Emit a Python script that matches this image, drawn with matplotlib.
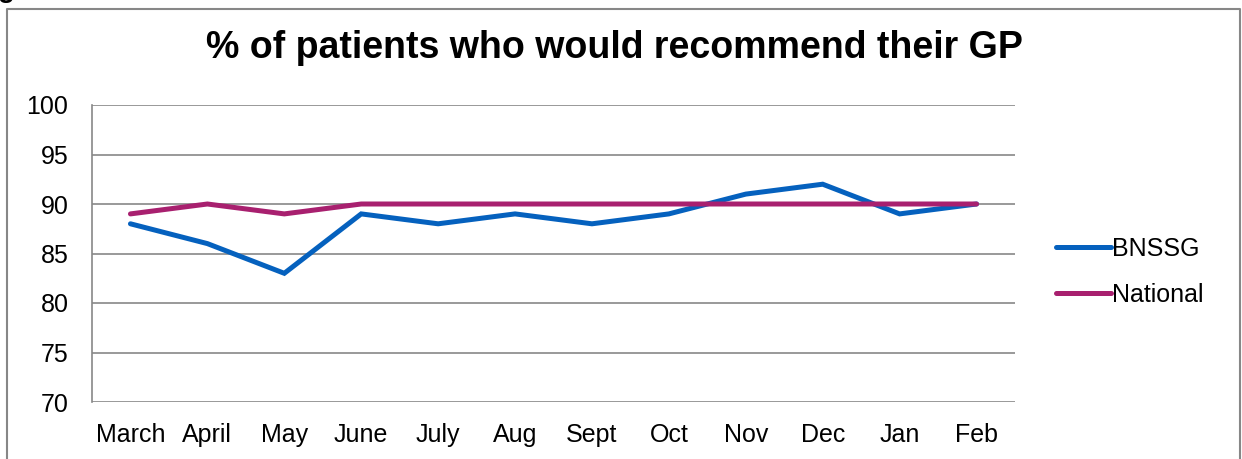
import matplotlib
matplotlib.use('Agg')
import matplotlib.pyplot as plt
from matplotlib.lines import Line2D

plt.rcParams['font.family'] = ['Liberation Sans', 'DejaVu Sans']

# monthly survey results (% recommending their GP)
months = ['March', 'April', 'May', 'June', 'July', 'Aug', 'Sept', 'Oct',
          'Nov', 'Dec', 'Jan', 'Feb']
bnssg = [88, 86, 83, 89, 88, 89, 88, 89, 91, 92, 89, 90]
national = [89, 90, 89, 90, 90, 90, 90, 90, 90, 90, 90, 90]
y_ticks = [70, 75, 80, 85, 90, 95, 100]

W, H = 1242, 459
fig = plt.figure(figsize=(W / 100, H / 100), dpi=100)
ax = fig.add_axes([92 / W, 1 - 402 / H, (1015 - 92) / W, (402 - 105) / H])

grid_col = '#878787'
x = range(len(months))
ax.plot(x, bnssg, color='#0561BE', lw=3.6, label='BNSSG',
        solid_capstyle='round', solid_joinstyle='miter', zorder=3)
ax.plot(x, national, color='#A8206F', lw=3.6, label='National',
        solid_capstyle='round', solid_joinstyle='miter', zorder=4)

ax.set_xlim(-0.5, len(months) - 0.5)
ax.set_ylim(70, 100)
ax.set_yticks(y_ticks)
ax.set_xticks(list(x))
ax.set_xticklabels(months)
ax.tick_params(axis='both', length=0, labelsize=18, colors='black')
ax.tick_params(axis='y', pad=17)
ax.tick_params(axis='x', pad=15)
ax.yaxis.grid(True, color=grid_col, lw=1.2)
ax.set_axisbelow(True)
for side in ['top', 'right', 'bottom']:
    ax.spines[side].set_visible(False)
ax.spines['left'].set_color(grid_col)
ax.spines['left'].set_linewidth(1.2)

fig.text(614 / W, 1 - 58 / H, '% of patients who would recommend their GP',
         ha='center', va='baseline', fontsize=27, fontweight='bold')

leg = fig.legend(loc='upper left', bbox_to_anchor=(1033 / W, 1 - 214 / H),
                 frameon=False, fontsize=18, handlelength=2.2,
                 handletextpad=0.05, labelspacing=0.9)
for h in leg.get_lines():
    h.set_linewidth(3.6)
    h.set_solid_capstyle('round')

# outer chart frame
fx = [7 / W, 7 / W, 1240 / W, 1240 / W]
fy = [0, 1 - 9 / H, 1 - 9 / H, 0]
fig.add_artist(Line2D(fx, fy, transform=fig.transFigure, color=grid_col,
                      lw=1.5))

# clipped heading above the frame
fig.text(-2 / W, 1 + 3 / H, 'g', ha='left', va='baseline', fontsize=20,
         fontweight='bold')

fig.savefig('out.png', dpi=100)
